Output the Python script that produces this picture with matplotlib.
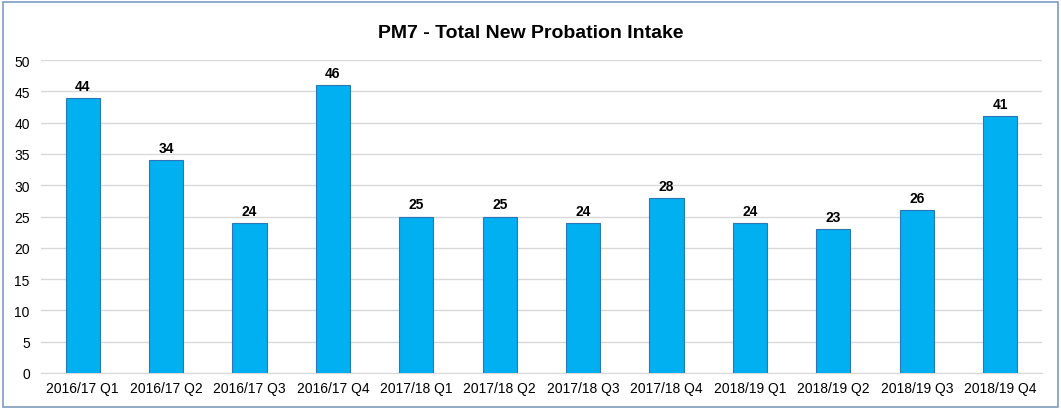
import matplotlib
matplotlib.use("Agg")
import matplotlib.pyplot as plt
from matplotlib.patches import Rectangle
import numpy as np

categories = ["2016/17 Q1", "2016/17 Q2", "2016/17 Q3", "2016/17 Q4",
              "2017/18 Q1", "2017/18 Q2", "2017/18 Q3", "2017/18 Q4",
              "2018/19 Q1", "2018/19 Q2", "2018/19 Q3", "2018/19 Q4"]
intake = [44, 34, 24, 46, 25, 25, 24, 28, 24, 23, 26, 41]
yticks = list(range(0, 55, 5))

plt.rcParams['font.family'] = ['Liberation Sans', 'DejaVu Sans']

fig = plt.figure(figsize=(10.61, 4.10), dpi=100)
ax = fig.add_axes([0.0386, 0.088, 0.9434, 0.763])

x = np.arange(len(categories))
ax.bar(x, intake, width=0.41, color='#00B0F0', edgecolor='#2E75B6', linewidth=0.8, zorder=3)

# value labels above bars
for xi, v in zip(x, intake):
    ax.text(xi, v + 0.8, str(v), ha='center', va='bottom', fontsize=10, fontweight='bold', color='black')

ax.set_xlim(-0.5, len(categories) - 0.5)
ax.set_ylim(0, 50)
ax.set_yticks(yticks)
ax.set_xticks(x)
ax.set_xticklabels(categories, fontsize=10)
ax.tick_params(axis='y', labelsize=10, length=0, pad=8)
ax.tick_params(axis='x', length=0, pad=6)
ax.grid(axis='y', color='#D9D9D9', linewidth=1, zorder=0)
for s in ['top', 'right', 'left']:
    ax.spines[s].set_visible(False)
ax.spines['bottom'].set_color('#D9D9D9')

fig.text(0.5, 0.918, "PM7 - Total New Probation Intake", ha='center', va='center', fontsize=14, fontweight='bold')

# outer chart border
fig.patches.append(Rectangle((0.003, 0.005), 0.994, 0.988, transform=fig.transFigure,
                             fill=False, edgecolor='#7F9CC0', linewidth=1.2))

fig.savefig("out.png", dpi=100)
